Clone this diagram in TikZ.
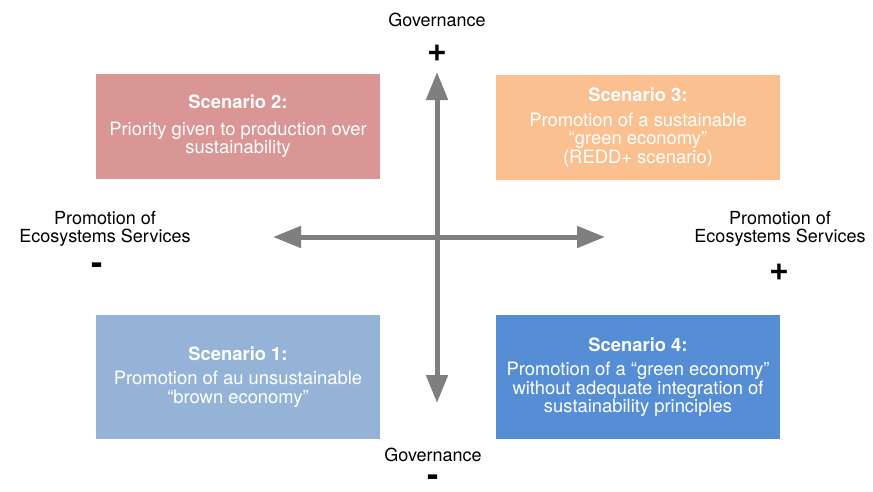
\documentclass[tikz,border=0pt]{standalone}
\usepackage{fontspec}
\setmainfont{TeX Gyre Heros}
\usetikzlibrary{arrows.meta}
\definecolor{pinkbox}{HTML}{D99694}
\definecolor{orangebox}{HTML}{FAC090}
\definecolor{lightbluebox}{HTML}{95B3D7}
\definecolor{bluebox}{HTML}{558ED5}
\definecolor{axisgray}{HTML}{7F7F80}
\begin{document}
\begin{tikzpicture}[x=1pt,y=-1pt,
  scenbox/.style={minimum width=284pt, inner sep=0pt, outer sep=0pt, text=white, align=center,
    font=\fontsize{18.4}{18.5}\selectfont},
  lbl/.style={align=center, text=black, font=\fontsize{18}{18}\selectfont, inner sep=0pt},
  sign/.style={text=black, font=\fontsize{34}{34}\selectfont\bfseries, inner sep=0pt},
  axis/.style={draw=axisgray, line width=5pt, {Triangle[length=28pt,width=21pt]}-{Triangle[length=28pt,width=21pt]}}]
\useasboundingbox (0,0) rectangle (873,491);
\fill[white] (0,0) rectangle (873,491);
% boxes
\node[scenbox, fill=pinkbox, minimum height=105pt] (s2) at (238,126.5) {\textbf{Scenario 2:}\\[8pt]Priority given to production over\\sustainability};
\node[scenbox, fill=orangebox, minimum height=105pt] (s3) at (638,127.5) {\textbf{Scenario 3:}\\[6pt]Promotion of a sustainable\\``green economy''\\(REDD+ scenario)};
\node[scenbox, fill=lightbluebox, minimum height=124pt] (s1) at (238,377) {\textbf{Scenario 1:}\\[6pt]Promotion of au unsustainable\\``brown economy''};
\node[scenbox, fill=bluebox, minimum height=124pt] (s4) at (638,377) {\textbf{Scenario 4:}\\[6pt]Promotion of a ``green economy''\\without adequate integration of\\sustainability principles};
% axes
\coordinate (top) at (437,72);
\coordinate (bot) at (437,403);
\coordinate (lft) at (273,237);
\coordinate (rgt) at (605,237);
\draw[axis] (bot) -- (top);
\draw[axis] (lft) -- (rgt);
% labels
\node[lbl] (gtop) at (437,20) {Governance};
\node[sign] (ptop) at (437,53) {+};
\node[lbl] (gbot) at (433,455) {Governance};
\node[sign] (mbot) at (433,481) {-};
\node[lbl] (eleft) at (105,229) {Promotion of\\Ecosystems Services};
\node[sign] (mleft) at (97,269) {-};
\node[lbl] (eright) at (780,229) {Promotion of\\Ecosystems Services};
\node[sign] (pright) at (779,272) {+};
\end{tikzpicture}
\end{document}
